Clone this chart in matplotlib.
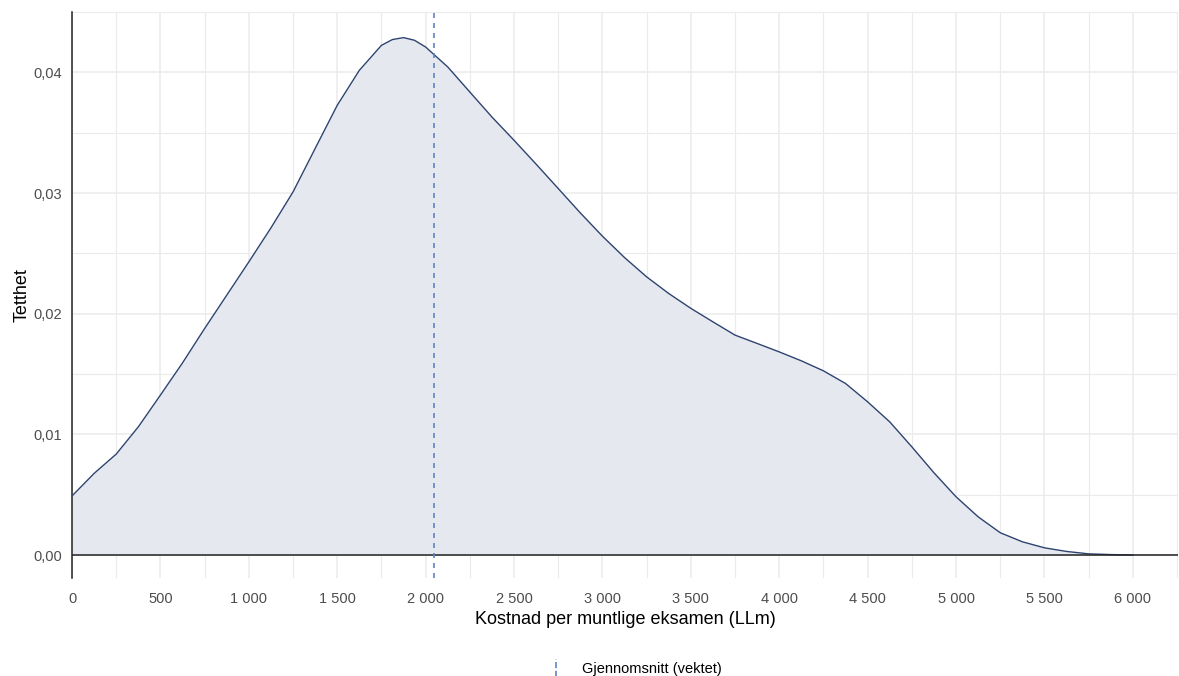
import matplotlib
matplotlib.use('Agg')
import matplotlib.pyplot as plt
from matplotlib.lines import Line2D
from matplotlib.legend_handler import HandlerBase
from matplotlib.ticker import FuncFormatter, MultipleLocator

# density, mostly every 125 LLm
cost = [0, 125, 250, 375, 500, 625, 750, 875, 1000, 1125, 1250, 1375, 1500, 1625, 1750,
        1812, 1875, 1937, 2000, 2125, 2250, 2375, 2500, 2625, 2750, 2875, 3000, 3125, 3250,
        3375, 3500, 3625, 3750, 3875, 4000, 4125, 4250, 4375, 4500, 4625, 4750, 4875, 5000,
        5125, 5250, 5375, 5500, 5625, 5750, 5875, 6000]
density = [0.0049, 0.00677, 0.00837, 0.01063, 0.01326, 0.01593, 0.01878, 0.02154, 0.0243,
           0.02712, 0.0301, 0.0337, 0.03728, 0.04018, 0.04225, 0.04273, 0.04289, 0.04267,
           0.04211, 0.04046, 0.03838, 0.03631, 0.03438, 0.0324, 0.03038, 0.02836, 0.02643,
           0.02466, 0.02306, 0.02168, 0.02045, 0.01933, 0.01823, 0.01754, 0.01684, 0.0161,
           0.01527, 0.01422, 0.0127, 0.01104, 0.00897, 0.00682, 0.00483, 0.00317, 0.00185,
           0.0011, 0.0006, 0.0003, 0.0001, 0.00004, 0.0]
weighted_mean = 2045

plt.rcParams['font.family'] = ['Liberation Sans', 'DejaVu Sans']


class VLineHandler(HandlerBase):            # vertical legend key like ggplot's geom_vline
    def create_artists(self, legend, orig, xdescent, ydescent, width, height, fontsize, trans):
        x = width / 2 - xdescent
        line = Line2D([x, x], [-ydescent - 3, height - ydescent + 3], color=orig.get_color(),
                      linestyle=orig.get_linestyle(), linewidth=orig.get_linewidth())
        line.set_transform(trans)
        return [line]


fig = plt.figure(figsize=(11.79, 6.76), dpi=100)
ax = fig.add_axes([0.0611, 0.145, 0.9380, 0.837])

ax.fill_between(cost, density, 0, color='#e5e8ee', linewidth=0, zorder=2)
ax.plot(cost, density, color='#2e4470', linewidth=1.0, zorder=3)
ax.axhline(0, color='#222222', linewidth=1.1, zorder=4)
mean_line = ax.axvline(weighted_mean, color='#5b86c4', linestyle=(0, (3, 3)), linewidth=1.2,
                       zorder=5, label='Gjennomsnitt (vektet)')

ax.set_xlim(0, 6255)
ax.set_ylim(-0.0019, 0.045)
ax.xaxis.set_major_locator(MultipleLocator(500))
ax.xaxis.set_minor_locator(MultipleLocator(250))
ax.yaxis.set_major_locator(MultipleLocator(0.01))
ax.yaxis.set_minor_locator(MultipleLocator(0.005))
ax.xaxis.set_major_formatter(FuncFormatter(lambda v, p: f'{v:,.0f}'.replace(',', ' ')))
ax.yaxis.set_major_formatter(FuncFormatter(lambda v, p: f'{v:.2f}'.replace('.', ',')))

ax.grid(True, which='major', color='#ebebeb', linewidth=1.1, zorder=0)
ax.grid(True, which='minor', color='#ebebeb', linewidth=0.8, zorder=0)
ax.set_axisbelow(True)
for side in ['top', 'right', 'bottom']:
    ax.spines[side].set_visible(False)
ax.spines['left'].set_color('#222222')
ax.spines['left'].set_linewidth(1.1)
ax.tick_params(which='both', length=0, labelsize=10.5, labelcolor='#4d4d4d')
ax.tick_params(axis='x', pad=10)
ax.tick_params(axis='y', pad=7)

ax.set_xlabel('Kostnad per muntlige eksamen (LLm)', fontsize=13, labelpad=4)
ax.set_ylabel('Tetthet', fontsize=13, labelpad=2)

fig.legend(handles=[mean_line], loc='lower center', bbox_to_anchor=(0.538, -0.02),
           frameon=False, fontsize=10.5, handlelength=1.2, handletextpad=1.2,
           handler_map={Line2D: VLineHandler()})

plt.savefig('out.png', dpi=100)
